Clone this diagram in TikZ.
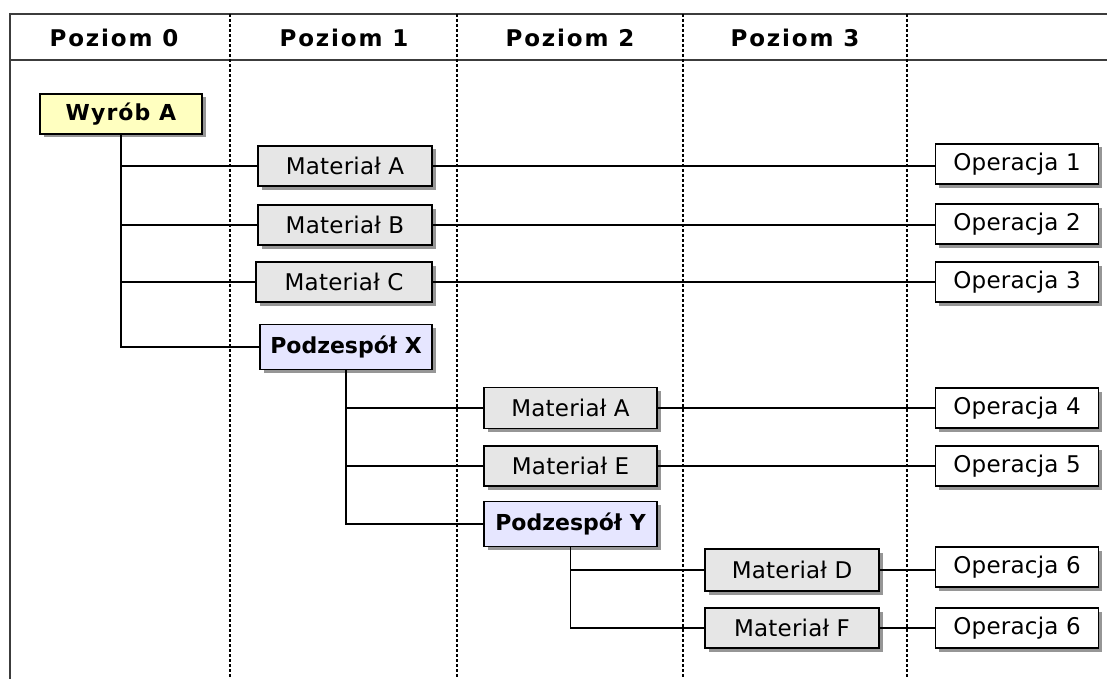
\documentclass[tikz,border=0pt]{standalone}
\usepackage{fontspec}
\setmainfont{DejaVu Sans}
\usetikzlibrary{shadows}
\definecolor{prodfill}{RGB}{255,255,192}
\definecolor{matfill}{RGB}{230,230,230}
\definecolor{subfill}{RGB}{230,230,255}
\definecolor{framecol}{RGB}{60,60,60}
\definecolor{shadowcol}{RGB}{150,150,150}
\begin{document}
\begin{tikzpicture}[x=1pt,y=-1pt,
  box/.style={draw=black, line width=1.3pt, inner sep=0pt, minimum height=40pt,
    drop shadow={shadow xshift=3.5pt, shadow yshift=-3.5pt, fill=shadowcol, opacity=1}},
  prodbox/.style={box, fill=prodfill, minimum width=162pt,
    font=\fontsize{22}{24}\selectfont\bfseries\addfontfeature{LetterSpace=5}},
  matbox/.style={box, fill=matfill, minimum width=174pt,
    font=\fontsize{23}{24}\selectfont\addfontfeature{LetterSpace=1}},
  subbox/.style={box, fill=subfill, minimum width=173pt, minimum height=45pt,
    font=\fontsize{22}{24}\selectfont\bfseries},
  opbox/.style={box, fill=white, minimum width=163pt,
    font=\fontsize{23}{24}\selectfont\addfontfeature{LetterSpace=1}},
  heading/.style={font=\fontsize{23}{24}\selectfont\bfseries\addfontfeature{LetterSpace=8}},
  link/.style={draw=black, line width=1.1pt},
  frameline/.style={draw=framecol, line width=2pt},
  colsep/.style={draw=black, line width=1.3pt, dash pattern=on 3pt off 2pt}
]
\useasboundingbox (0,0) rectangle (1107,679);

% table frame and column separators
\draw[frameline] (10,14) -- (1107,14);
\draw[frameline] (10,60) -- (1107,60);
\draw[frameline] (10,13) -- (10,679);
\foreach \cx in {230,457,683,907}
  \draw[colsep] (\cx,14) -- (\cx,679);

% column headings
\node[heading] (h0) at (114,38) {Poziom 0};
\node[heading] (h1) at (344,38) {Poziom 1};
\node[heading] (h2) at (570,38) {Poziom 2};
\node[heading] (h3) at (795,38) {Poziom 3};

% structure nodes
\node[prodbox] (wa) at (121,114) {Wyrób A};
\node[matbox] (m1a) at (345,166) {Materiał A};
\node[matbox] (m1b) at (345,225) {Materiał B};
\node[matbox, minimum width=176pt] (m1c) at (344,282) {Materiał C};
\node[subbox, minimum width=172pt] (px) at (346,347) {Podzespół X};
\node[matbox, minimum width=173pt, minimum height=41pt] (m2a) at (570.5,408) {Materiał A};
\node[matbox, minimum width=173pt] (m2e) at (570.5,466) {Materiał E};
\node[subbox] (py) at (570.5,524) {Podzespół Y};
\node[matbox, minimum height=42pt] (m3d) at (792,570) {Materiał D};
\node[matbox] (m3f) at (792,628) {Materiał F};

% operations
\node[opbox] (o1) at (1017,164) {Operacja 1};
\node[opbox] (o2) at (1017,224) {Operacja 2};
\node[opbox] (o3) at (1017,282) {Operacja 3};
\node[opbox] (o4) at (1017,408) {Operacja 4};
\node[opbox] (o5) at (1017,466) {Operacja 5};
\node[opbox] (o6) at (1017,567) {Operacja 6};
\node[opbox] (o7) at (1017,628) {Operacja 6};

% tree connectors
\draw[link] (wa.south) |- (m1a.west);
\draw[link] (wa.south) |- (m1b.west);
\draw[link] (wa.south) |- (m1c.west);
\draw[link] (wa.south) |- (px.west);
\draw[link] (px.south) |- (m2a.west);
\draw[link] (px.south) |- (m2e.west);
\draw[link] (px.south) |- (py.west);
\draw[link] (py.south) |- (m3d.west);
\draw[link] (py.south) |- (m3f.west);

% links to operations
\draw[link] (m1a.east) -- (m1a.east -| o1.west);
\draw[link] (m1b.east) -- (m1b.east -| o2.west);
\draw[link] (m1c.east) -- (m1c.east -| o3.west);
\draw[link] (m2a.east) -- (m2a.east -| o4.west);
\draw[link] (m2e.east) -- (m2e.east -| o5.west);
\draw[link] (m3d.east) -- (m3d.east -| o6.west);
\draw[link] (m3f.east) -- (m3f.east -| o7.west);
\end{tikzpicture}
\end{document}
